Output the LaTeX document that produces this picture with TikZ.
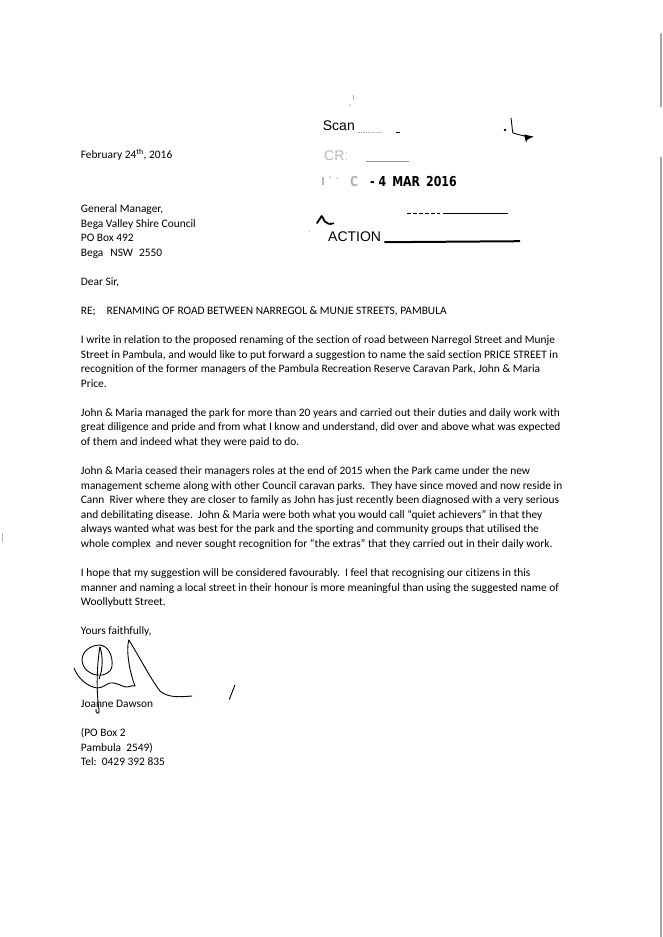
\documentclass[tikz,border=0pt]{standalone}
\usepackage{fontspec}
\setmainfont{Carlito}[Ligatures={TeX,NoCommon}]
\newfontfamily\stampsans{Liberation Sans}
\newfontfamily\stampdate{DejaVu Sans}[FakeStretch=0.8]
\usetikzlibrary{positioning}
\newcommand{\letterfont}{\fontsize{11.4}{14.56}\selectfont}
\tikzset{
  para/.style   = {anchor=base west, align=left, inner sep=0pt, font=\letterfont},
  stamp/.style  = {anchor=base west, inner sep=0pt, font=\stampsans\fontsize{14}{16}\selectfont},
  datefont/.style = {anchor=base west, inner sep=0pt, font=\stampdate\bfseries\fontsize{13.7}{15}\selectfont},
  ink/.style    = {line width=0.9pt, line cap=round, line join=round},
  rule/.style   = {line width=1pt},
  speck/.style  = {fill=gray!55},
}

\begin{document}
\begin{tikzpicture}[x=1pt,y=-1pt]
    \useasboundingbox[fill=white] (0,0) rectangle (662,937);

    % Scanner edges
    \draw[gray!70, line width=1.2pt] (661,33) -- (661,107);
    \draw[gray!70, line width=1.2pt] (661,157) -- (661,937);
    \draw[gray!60, line width=0.8pt] (2,533) -- (2,542);

    % Received stamp
    \draw[gray!70, line width=0.8pt] (353,95) -- (354,100);
    \fill[speck] (350,105) circle (0.8);
    \node[stamp] (scan) at (322.7,130.7) {Scan};
    \draw[rule, gray!60, dash pattern=on 1.5pt off 1pt] ([xshift=3pt,yshift=-2pt]scan.base east) -- ++(24,0);
    \draw[rule] ([xshift=41pt,yshift=-2pt]scan.base east) -- ++(4,0);
    \node[stamp, text=gray!55] (crm) at (324,160) {CR\textcolor{gray!30}{:}};
    \draw[rule, gray!80] ([xshift=17pt,yshift=-1.5pt]crm.base east) -- ++(43,0);
    \fill[speck] (322,177) rectangle (324,185);
    \fill[speck] (330,177) circle (0.9);
    \fill[speck] (337,178) circle (0.9);
    \node[datefont, text=gray!60] (dmc) at (350,186.7) {C};
    \node[datefont] (recd) at (370,186.7) {- 4 \,MAR \,2016};
    \draw[rule, dash pattern=on 4pt off 2pt] (407,213.3) -- (440,213.3);
    \draw[rule] (443,213.3) -- (508,213.3);
    \draw[line width=1.8pt, line cap=round, line join=round] (317,223) -- (321.7,216) -- (325,221.7)
      .. controls (327,224) and (330,224.5) .. (333.3,223.3);
    \fill[speck] (309.3,231.7) circle (0.7);
    \node[stamp] (action) at (328,241.7) {ACTION};
    \draw[line width=2pt] ([xshift=3pt,yshift=-0.5pt]action.base east) -- (520,241.2);
    \draw[ink] (511,118) .. controls (512,124) and (512,130) .. (513,133)
      .. controls (520,135) and (527,137) .. (533,137);
    \fill (524,134.5) -- (533,136.5) -- (527,140) -- (526,142.5) -- cycle;
    \fill (505,130) circle (1.3);
    \fill[speck] (530,129) circle (0.7);

    % Letter text (multi-line nodes sit on their last baseline)
    \node[para] (date) at (80.7,158.5) {February 24\textsuperscript{th}, 2016};
    \node[para] (addr) at (80.7,256.2) {General Manager,\\
      Bega Valley Shire Council\\
      PO Box 492\\
      Bega\hspace{7pt}NSW\hspace{6pt}2550};
    \node[para] (dear) at (80.7,285.3) {Dear Sir,};
    \node[para] (re) at (80.7,314.4) {RE;\hspace{11pt}RENAMING OF ROAD BETWEEN NARREGOL \& MUNJE STREETS, PAMBULA};
    \node[para] (para1) at (80.7,387.2) {I write in relation to the proposed renaming of the section of road between Narregol Street and Munje\\
      Street in Pambula, and would like to put forward a suggestion to name the said section PRICE STREET in\\
      recognition of the former managers of the Pambula Recreation Reserve Caravan Park, John \& Maria\\
      Price.};
    \node[para] (para2) at (80.7,445.4) {John \& Maria managed the park for more than 20 years and carried out their duties and daily work with\\
      great diligence and pride and from what I know and understand, did over and above what was expected\\
      of them and indeed what they were paid to do.};
    \node[para] (para3) at (80.7,547.3) {John \& Maria ceased their managers roles at the end of 2015 when the Park came under the new\\
      management scheme along with other Council caravan parks.\ \ They have since moved and now reside in\\
      Cann\ \ River where they are closer to family as John has just recently been diagnosed with a very serious\\
      and debilitating disease.\ \ John \& Maria were both what you would call “quiet achievers” in that they\\
      always wanted what was best for the park and the sporting and community groups that utilised the\\
      whole complex\ \ and never sought recognition for “the extras” that they carried out in their daily work.};
    \node[para] (para4) at (80.7,605.6) {I hope that my suggestion will be considered favourably.\ \ I feel that recognising our citizens in this\\
      manner and naming a local street in their honour is more meaningful than using the suggested name of\\
      Woollybutt Street.};
    \node[para] (yours) at (80.7,634.7) {Yours faithfully,};
    \node[para] (name) at (80.7,707.5) {Joanne Dawson};
    \node[para] (postal) at (80.7,765.7) {(PO Box 2\\
      Pambula\ \ 2549)\\
      Tel:\ \ 0429 392 835};

    % Signature
    \draw[ink] (82,660) .. controls (82,652) and (90,645) .. (100,645)
      .. controls (108,646) and (113,655) .. (112,666)
      .. controls (111,673) and (104,676) .. (97,675)
      .. controls (89,674) and (83,669) .. (82,660);
    \draw[ink] (100,647) .. controls (97,663) and (96,690) .. (99,710)
      .. controls (100,715) and (95,714) .. (96,709);
    \draw[ink] (100,647) .. controls (103,656) and (103,670) .. (99,679);
    \draw[ink] (74,668) .. controls (77,676) and (85,686) .. (97,688)
      .. controls (103,688) and (106,684) .. (110,683)
      .. controls (118,682) and (123,688) .. (128,687)
      .. controls (131,686) and (133,685) .. (135,686);
    \draw[ink] (128.8,640) .. controls (139,656) and (150,678) .. (160,691)
      .. controls (168,698) and (180,697) .. (192,696);
    \draw[ink] (128.8,640) .. controls (126,650) and (129,670) .. (135,686);
    \draw[ink] (235,685) .. controls (233,690) and (231,695) .. (229.3,699.3);
\end{tikzpicture}
\end{document}
